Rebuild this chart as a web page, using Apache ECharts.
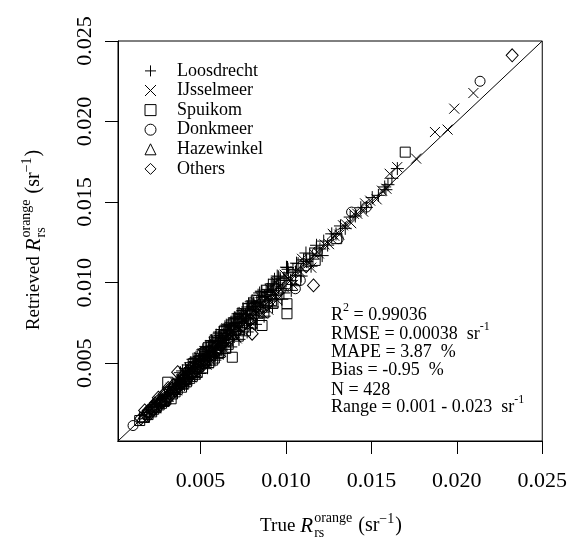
<!DOCTYPE html>
<html>
<head>
<meta charset="utf-8">
<script src="https://cdn.jsdelivr.net/npm/echarts@6/dist/echarts.min.js"></script>
<style>html,body{margin:0;padding:0;background:#fff}#c{width:570px;height:546px}</style>
</head>
<body>
<div id="c"></div>
<script>
// ---- data (true, retrieved) in sr^-1 ----
const seriesNames = ['Loosdrecht', 'IJsselmeer', 'Spuikom', 'Donkmeer', 'Hazewinkel', 'Others'];
const tickValues = [0.005, 0.010, 0.015, 0.020, 0.025];
const statLines = ['R2 = 0.99036', 'RMSE = 0.00038  sr-1', 'MAPE = 3.87  %', 'Bias = -0.95  %', 'N = 428', 'Range = 0.001 - 0.023  sr-1'];

const loosdrecht = [
[0.00352,0.00371],[0.00368,0.00399],[0.00381,0.00374],[0.00395,0.00421],[0.00402,0.00428],[0.00414,0.00409],[0.00421,0.00452],[0.00433,0.00439],[0.00440,0.00473],[0.00452,0.00447],
[0.00458,0.00484],[0.00467,0.00476],[0.00471,0.00509],[0.00483,0.00480],[0.00489,0.00515],[0.00496,0.00511],[0.00503,0.00494],[0.00508,0.00547],[0.00514,0.00525],[0.00522,0.00551],
[0.00527,0.00516],[0.00533,0.00571],[0.00538,0.00549],[0.00546,0.00575],[0.00551,0.00541],[0.00557,0.00598],[0.00561,0.00568],[0.00569,0.00606],[0.00574,0.00563],[0.00578,0.00612],
[0.00585,0.00597],[0.00591,0.00633],[0.00596,0.00583],[0.00602,0.00632],[0.00607,0.00619],[0.00613,0.00657],[0.00618,0.00609],[0.00624,0.00655],[0.00629,0.00641],[0.00636,0.00681],
[0.00641,0.00628],[0.00647,0.00684],[0.00652,0.00663],[0.00658,0.00702],[0.00663,0.00651],[0.00669,0.00709],[0.00675,0.00687],[0.00681,0.00724],[0.00686,0.00672],[0.00692,0.00731],
[0.00698,0.00711],[0.00703,0.00746],[0.00709,0.00697],[0.00714,0.00752],[0.00721,0.00733],[0.00727,0.00774],[0.00732,0.00721],[0.00739,0.00778],[0.00745,0.00757],[0.00751,0.00799],
[0.00757,0.00746],[0.00763,0.00801],[0.00769,0.00781],[0.00776,0.00823],[0.00782,0.00769],[0.00788,0.00828],[0.00795,0.00806],[0.00802,0.00849],[0.00808,0.00797],[0.00815,0.00853],
[0.00822,0.00834],[0.00829,0.00876],[0.00836,0.00823],[0.00843,0.00884],[0.00851,0.00862],[0.00859,0.00907],[0.00866,0.00854],[0.00874,0.00914],[0.00882,0.00893],[0.00891,0.00939],
[0.00899,0.00886],[0.00908,0.00949],[0.00917,0.00927],[0.00926,0.00974],[0.00936,0.00921],[0.00946,0.00986],[0.00956,0.00966],[0.00967,0.01016],[0.00978,0.00963],[0.00989,0.01029],
[0.01001,0.01013],[0.01014,0.01061],[0.01027,0.01014],[0.01041,0.01079],[0.01056,0.01066],[0.01071,0.01118],[0.01087,0.01074],[0.01103,0.01141],[0.01121,0.01131],[0.01139,0.01178],
[0.01158,0.01146],[0.01178,0.01215],[0.01199,0.01209],[0.01221,0.01258],[0.01244,0.01233],[0.01268,0.01303],[0.01293,0.01302],[0.01319,0.01352],[0.01347,0.01337],[0.01376,0.01407],
[0.01406,0.01414],[0.01438,0.01465],[0.01471,0.01467],[0.01505,0.01528],[0.01541,0.01542],[0.01578,0.01594],[0.01585,0.01577],[0.01597,0.01608],[0.01620,0.01648],[0.01652,0.01708],
[0.00618,0.00672],[0.00735,0.00791],[0.00812,0.00872],[0.00547,0.00601],[0.00683,0.00744],[0.00894,0.00958],[0.00771,0.00836],[0.00494,0.00542],
[0.00412,0.00466],[0.00437,0.00408],[0.00463,0.00512],[0.00479,0.00449],[0.00501,0.00559],[0.00518,0.00487],[0.00536,0.00593],[0.00552,0.00514],[0.00571,0.00631],[0.00589,0.00552],
[0.00604,0.00661],[0.00621,0.00583],[0.00638,0.00706],[0.00654,0.00612],[0.00672,0.00733],[0.00688,0.00648],[0.00707,0.00778],[0.00723,0.00679],[0.00741,0.00803],[0.00758,0.00712],
[0.00776,0.00849],[0.00793,0.00748],[0.00811,0.00873],[0.00828,0.00779],[0.00847,0.00921],[0.00865,0.00817],[0.00884,0.00946],[0.00903,0.00857],[0.00923,0.00993],[0.00944,0.00894],
[0.00966,0.01027],[0.00988,0.00936],[0.01012,0.01083],[0.01036,0.00989],[0.01062,0.01121],[0.01089,0.01041],[0.01117,0.01184],[0.01147,0.01102],[0.01179,0.01232],[0.01212,0.01168],
[0.00562,0.00638],[0.00643,0.00726],[0.00714,0.00792],[0.00781,0.00869],[0.00837,0.00922],[0.00592,0.00674],[0.00678,0.00751],[0.00749,0.00838],[0.00698,0.00781],[0.00611,0.00693],
[0.00531,0.00604],[0.00859,0.00943],[0.00957,0.01036],[0.01009,0.01094],[0.00443,0.00503],[0.00468,0.00529],[0.00726,0.00809],[0.00663,0.00739],[0.00802,0.00887],[0.00914,0.00992],
[0.00382,0.00441],[0.00406,0.00367],[0.00428,0.00489],[0.00449,0.00398],[0.00474,0.00537],[0.00497,0.00436],[0.00519,0.00588],[0.00541,0.00472],[0.00566,0.00641],[0.00584,0.00519],
[0.00609,0.00686],[0.00633,0.00562],[0.00655,0.00729],[0.00677,0.00601],[0.00702,0.00781],[0.00725,0.00648],[0.00749,0.00827],[0.00773,0.00694],[0.00797,0.00881],[0.00822,0.00741],
[0.00846,0.00936],[0.00872,0.00792],[0.00897,0.00984],[0.00921,0.00849],[0.00949,0.01041],[0.00976,0.00897],[0.01003,0.01096],[0.01031,0.00952],[0.00456,0.00524],[0.00513,0.00583],
[0.00587,0.00662],[0.00651,0.00736],[0.00719,0.00806],[0.00789,0.00871],[0.00856,0.00947],[0.00933,0.01021],[0.00395,0.00452],[0.00552,0.00627],[0.00625,0.00709],[0.00694,0.00769]
];
const ijsselmeer = [
[0.02097,0.02177],[0.01985,0.02080],[0.01872,0.01935],[0.01946,0.01950],[0.01762,0.01770],[0.01651,0.01717],[0.01607,0.01676],[0.01588,0.01583],[0.01562,0.01571],[0.01531,0.01517],
[0.01493,0.01509],[0.01452,0.01441],[0.01417,0.01428],[0.01382,0.01369],[0.01351,0.01362],[0.01312,0.01298],[0.01283,0.01291],[0.01252,0.01239],[0.01226,0.01237],[0.01193,0.01181],
[0.01167,0.01176],[0.01135,0.01121],[0.01108,0.01117],[0.01082,0.01069],[0.01057,0.01071],[0.01033,0.01021],[0.01011,0.01024],[0.00987,0.00972],[0.00964,0.00978],[0.00941,0.00929],
[0.00922,0.00935],[0.00903,0.00889],[0.00884,0.00897],[0.00866,0.00851],[0.00848,0.00863],[0.00831,0.00818],[0.00813,0.00826],[0.00797,0.00784],[0.00781,0.00794],[0.00764,0.00751],
[0.00748,0.00762],[0.00731,0.00717],[0.00716,0.00729],[0.00701,0.00686],[0.00686,0.00699],[0.00671,0.00657],[0.00657,0.00671],[0.00643,0.00628],[0.00629,0.00643],[0.00615,0.00601],
[0.00601,0.00614],[0.00588,0.00574],[0.00574,0.00587],[0.00561,0.00547],[0.00547,0.00561],[0.00534,0.00521],[0.00521,0.00534],[0.00507,0.00494],[0.00494,0.00508],[0.00481,0.00468],
[0.00468,0.00481],[0.00455,0.00443],[0.00442,0.00455],[0.00428,0.00417],[0.00415,0.00428],[0.00401,0.00392],[0.00388,0.00401],[0.00373,0.00366],[0.01463,0.01492],[0.01398,0.01427],
[0.01334,0.01356],[0.01274,0.01303],
[0.00352,0.00379],[0.00397,0.00368],[0.00436,0.00471],[0.00478,0.00447],[0.00515,0.00553],[0.00556,0.00521],[0.00593,0.00638],[0.00632,0.00592],[0.00668,0.00714],[0.00707,0.00663],
[0.00744,0.00795],[0.00784,0.00736],[0.00823,0.00878],[0.00862,0.00809],[0.00905,0.00961],[0.00948,0.00893],[0.00993,0.01049],[0.01041,0.00986],[0.01094,0.01148],[0.01148,0.01093],
[0.00326,0.00347],[0.00362,0.00331],[0.00409,0.00447],[0.00447,0.00412],[0.00492,0.00536],[0.00536,0.00491],[0.00578,0.00627],[0.00621,0.00569],[0.00664,0.00719],[0.00712,0.00654],
[0.00759,0.00812],[0.00806,0.00742],[0.00851,0.00911],[0.00897,0.00832],[0.00942,0.01003]
];
const spuikom = [
[0.00144,0.00144],[0.00193,0.00181],[0.00226,0.00214],[0.00258,0.00241],[0.00328,0.00279],[0.00308,0.00382],[0.00351,0.00322],[0.00389,0.00351],[0.00417,0.00384],[0.00452,0.00418],
[0.00481,0.00442],[0.00512,0.00471],[0.00548,0.00503],[0.00581,0.00532],[0.00614,0.00566],[0.00647,0.00593],[0.00686,0.00537],[0.00721,0.00668],[0.00763,0.00701],[0.00802,0.00749],
[0.00860,0.00734],[0.00871,0.00813],[0.00924,0.00871],[0.01006,0.00869],[0.01006,0.00807],[0.01057,0.01012],[0.01171,0.01138],[0.01297,0.01273],[0.01698,0.01810],[0.00287,0.00262],
[0.00172,0.00163],[0.00241,0.00227],[0.00272,0.00251],[0.00364,0.00338],[0.00437,0.00406],[0.00532,0.00497],[0.00603,0.00561],[0.00662,0.00617],
[0.00214,0.00198],[0.00297,0.00274],[0.00336,0.00309],[0.00402,0.00372],[0.00468,0.00432],[0.00571,0.00519]
];
const donkmeer = [
[0.00105,0.00113],[0.00189,0.00194],[0.00247,0.00251],[0.00296,0.00289],[0.00342,0.00351],[0.00387,0.00379],[0.00431,0.00442],[0.00473,0.00468],[0.00512,0.00568],[0.00553,0.00547],
[0.00598,0.00611],[0.00641,0.00634],[0.00692,0.00704],[0.00743,0.00731],[0.00797,0.00808],[0.00852,0.00839],[0.00913,0.00921],[0.01055,0.00962],[0.01084,0.01014],[0.01306,0.01273],
[0.01384,0.01438],[0.01471,0.01469],[0.02136,0.02250],[0.00972,0.00958],[0.01183,0.01192],
[0.00221,0.00228],[0.00318,0.00327],[0.00405,0.00398],[0.00457,0.00471],[0.00619,0.00607]
];
const hazewinkel = [
[0.00162,0.00171],[0.00201,0.00212],[0.00233,0.00226],[0.00264,0.00279],[0.00291,0.00287],[0.00318,0.00331],[0.00347,0.00339],[0.00373,0.00387],[0.00398,0.00391],[0.00426,0.00437],
[0.00459,0.00452],[0.00488,0.00499],[0.00527,0.00519],[0.00563,0.00571],[0.00602,0.00591],
[0.00178,0.00192],[0.00249,0.00257],[0.00305,0.00298],[0.00361,0.00372],[0.00414,0.00407],
[0.00221,0.00238],[0.00284,0.00271],[0.00333,0.00352],[0.00389,0.00374]
];
const others = [
[0.02324,0.02411],[0.01161,0.00983],[0.00802,0.00683],[0.00173,0.00207],[0.00366,0.00444],[0.00151,0.00157],[0.00184,0.00178],[0.00212,0.00222],[0.00239,0.00231],[0.00268,0.00262],
[0.00294,0.00303],[0.00322,0.00311],[0.00337,0.00314],[0.00359,0.00348],[0.00381,0.00369],[0.00402,0.00409],[0.00427,0.00412],[0.00449,0.00439],[0.00476,0.00461],[0.00503,0.00511],
[0.00532,0.00516],[0.00561,0.00553],[0.00593,0.00576],[0.00627,0.00617],[0.00664,0.00641],[0.00705,0.00689],[0.00748,0.00733],[0.00791,0.00772],[0.00889,0.00866],[0.00953,0.00937],
[0.01118,0.01102],[0.00253,0.00286],[0.00311,0.00346],
[0.00192,0.00203],[0.00221,0.00209],[0.00248,0.00263],[0.00276,0.00259],[0.00301,0.00322],[0.00329,0.00342],[0.00352,0.00331],[0.00418,0.00396],[0.00441,0.00468],[0.00519,0.00494],
[0.00207,0.00189],[0.00234,0.00251],[0.00262,0.00241],[0.00287,0.00309],[0.00315,0.00292],[0.00343,0.00367],[0.00371,0.00352],[0.00397,0.00419],[0.00463,0.00448],[0.00578,0.00551]
];

const FF = 'Liberation Serif';
const SERIES_DATA = [loosdrecht, ijsselmeer, spuikom, donkmeer, hazewinkel, others];
const SYMBOLS = [
  'path://M0,6L12,6M6,0L6,12',
  'path://M0,0L10,10M10,0L0,10',
  'rect', 'circle', 'triangle', 'diamond'
];
const SIZES = [13, 10, 10, 10, [12, 11], [12, 13]];

// text measuring helper for the composite labels
const mctx = document.createElement('canvas').getContext('2d');
function tw(t, size, italic) {
  mctx.font = (italic ? 'italic ' : '') + size + 'px "' + FF + '"';
  return mctx.measureText(t).width;
}
function piecewise(parts) {
  let x = 0; const kids = [];
  parts.forEach(p => {
    const items = p.stack || [p];
    let w = 0;
    items.forEach(q => {
      kids.push({ type: 'text', x: x, y: q.dy || 0, silent: true,
        style: { text: q.text, font: (q.italic ? 'italic ' : '') + q.size + 'px "' + FF + '"',
          fill: '#000', textAlign: 'left', textVerticalAlign: 'middle', align: 'left', verticalAlign: 'middle' } });
      w = Math.max(w, tw(q.text, q.size, q.italic));
    });
    x += w + (p.gap || 0);
  });
  return { kids, width: x };
}
function centered(parts) {
  const r = piecewise(parts);
  r.kids.forEach(k => { k.x -= r.width / 2; });
  return r.kids;
}
function axisTitle(word) {
  return [
    { text: word, size: 19, gap: 5 },
    { text: 'R', size: 21, italic: true, gap: 1 },
    { stack: [{ text: 'orange', size: 14, dy: -8 }, { text: 'rs', size: 14, dy: 7 }], gap: 6 },
    { text: '(sr', size: 20 },
    { text: '\u22121', size: 14, dy: -7, gap: 1 },
    { text: ')', size: 20 }
  ];
}
function statParts(line) {
  const m = line.match(/^(R)(2)( = .*)$/);
  if (m) return [{ text: 'R', size: 18 }, { text: '2', size: 12, dy: -7 }, { text: m[3], size: 18 }];
  if (line.endsWith('sr-1')) return [{ text: line.slice(0, -2), size: 18 }, { text: '-1', size: 12, dy: -7 }];
  return [{ text: line, size: 18 }];
}
const lineYs = [315, 334, 352, 370, 390, 407];
const statKids = [];
statLines.forEach((l, i) => {
  piecewise(statParts(l)).kids.forEach(k => { k.y += lineYs[i]; statKids.push(k); });
});

const chart = echarts.init(document.getElementById('c'), null, { renderer: 'canvas' });
const series = seriesNames.map((n, i) => ({
  name: n, type: 'scatter', data: SERIES_DATA[i], symbol: SYMBOLS[i], symbolSize: SIZES[i],
  itemStyle: { color: 'rgba(0,0,0,0)', borderColor: '#000', borderWidth: 1, opacity: 1 },
  emphasis: { disabled: true }, z: 3
}));
series.push({
  name: '1:1', type: 'line', data: [[0, 0], [0.025, 0.025]], symbol: 'none', clip: true,
  lineStyle: { color: '#000', width: 1 }, silent: true, z: 2
});

const axisCommon = {
  type: 'value', min: 0.00017, max: 0.025,
  axisLine: { show: true, onZero: false, lineStyle: { color: '#000', width: 1 } },
  axisTick: { show: true, inside: false, length: 13, customValues: tickValues, lineStyle: { color: '#000', width: 1 } },
  splitLine: { show: false },
};
chart.setOption({
  animation: false,
  backgroundColor: '#fff',
  grid: { left: 118, right: 25, top: 41, bottom: 105, show: true, borderColor: '#000', borderWidth: 1, containLabel: false },
  xAxis: Object.assign({}, axisCommon, {
    axisLabel: { customValues: tickValues, margin: 29, color: '#000', fontFamily: FF, fontSize: 22,
      formatter: v => v.toFixed(3) }
  }),
  yAxis: Object.assign({}, axisCommon, {
    axisLabel: { customValues: tickValues, margin: 22, rotate: 90, color: '#000', fontFamily: FF, fontSize: 22,
      formatter: v => v.toFixed(3) }
  }),
  legend: {
    data: seriesNames, orient: 'vertical', left: 144.5, top: 61.9, padding: 0,
    itemWidth: 11, itemHeight: 11, itemGap: 1.6,
    selectedMode: false,
    itemStyle: { color: 'rgba(0,0,0,0)', borderColor: '#000', borderWidth: 1 },
    textStyle: { fontFamily: FF, fontSize: 18, color: '#000', padding: [0, 0, 0, 16] }
  },
  graphic: [
    { type: 'group', x: 331, y: 526, children: centered(axisTitle('True')) },
    { type: 'group', x: 34, y: 240, rotation: Math.PI / 2, children: centered(axisTitle('Retrieved')) },
    { type: 'group', x: 331, y: 0, children: statKids }
  ],
  series: series
});
</script>
</body>
</html>
